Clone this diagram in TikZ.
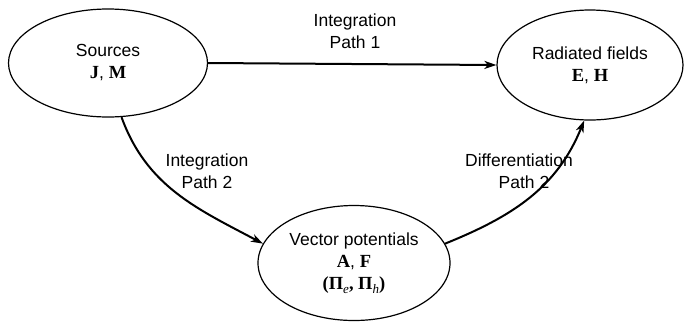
\documentclass[tikz,border=0pt]{standalone}
\usepackage{fontspec}
\setmainfont{Liberation Sans}
\newfontfamily\bfser{Liberation Serif}[BoldFont={Liberation Serif Bold}]
\usetikzlibrary{shapes.geometric,arrows.meta}

\newcommand{\bv}[1]{{\bfser\bfseries\fontsize{18.5}{21}\selectfont #1}}
\newcommand{\subi}[1]{\raisebox{-0.4ex}{\bfser\fontsize{13}{13}\selectfont\itshape #1}}

\begin{document}
\begin{tikzpicture}[x=1pt,y=-1pt,line width=1.1pt,
  every node/.style={font=\fontsize{17.5}{22}\selectfont},
  blob/.style={draw,ellipse,inner sep=0pt,align=center,line width=1.2pt},
  lbl/.style={align=center},
  flow/.style={line width=2pt,-{Stealth[length=12pt,width=8pt,inset=3.5pt]}}]
  \useasboundingbox (0,0) rectangle (687,325);
  % the three quantities
  \node[blob,minimum width=199pt,minimum height=108pt] (src) at (108,63) {Sources\\\bv{J}, \bv{M}};
  \node[blob,minimum width=186pt,minimum height=110pt] (rad) at (590,65) {Radiated fields\\\bv{E}, \bv{H}};
  \node[blob,minimum width=192pt,minimum height=115pt] (vec) at (354,263) {Vector potentials\\\bv{A}, \bv{F}\\\bv{(Π}\subi{e}\bv{, Π}\subi{h}\bv{)}};
  % paths
  \draw[flow] (src.east) -- (rad.west);
  \draw[flow] (src.-76) to[out=-70,in=152] (vec.168);
  \draw[flow] (vec.12) to[out=22,in=-112] (rad.-96);
  \node[lbl] (p1) at (355,31) {Integration\\Path 1};
  \node[lbl] (p2) at (207,171) {Integration\\Path 2};
  \node[lbl] (p3) at (519,171) {Differentiation\\\hspace*{10pt}Path 2};
\end{tikzpicture}
\end{document}
